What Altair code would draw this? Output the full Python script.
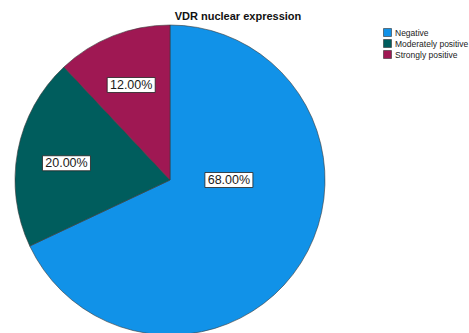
import altair as alt
import pandas as pd

title_text = "VDR nuclear expression"
categories = ["Negative", "Moderately positive", "Strongly positive"]
percent = [68, 20, 12]
colors = ["#1192e8", "#005d5d", "#9f1853"]

df = pd.DataFrame({"category": categories, "percent": percent, "idx": list(range(len(categories)))})

CX, CY, R = 170, 180, 155
FONT = "Liberation Sans"

base = alt.Chart(df).transform_joinaggregate(
    total="sum(percent)"
).transform_window(
    cum="sum(percent)", sort=[alt.SortField("idx")], frame=[None, 0]
).transform_calculate(
    mid="(datum.cum - datum.percent/2)/datum.total",
    label="format(datum.percent/datum.total, '.2%')",
).transform_calculate(
    ang=f"datum.percent/datum.total > 0.5 ? PI/2 : 2*PI*datum.mid",
    lr=f"datum.percent/datum.total > 0.5 ? {0.38*R} : {0.68*R}",
).transform_calculate(
    lx=f"{CX} + datum.lr*sin(datum.ang)",
    ly=f"{CY} - datum.lr*cos(datum.ang) + (datum.percent/datum.total > 0.5 ? 0 : 3)",
).transform_calculate(
    bx1="datum.lx - 24", bx2="datum.lx + 24",
    by1="datum.ly - 7.5", by2="datum.ly + 7.5",
)

arcs = base.mark_arc(outerRadius=R, stroke="#3a3a3a", strokeWidth=0.6).encode(
    theta=alt.Theta("percent:Q", stack=True),
    order=alt.Order("idx:Q"),
    color=alt.Color(
        "category:N",
        scale=alt.Scale(domain=categories, range=colors),
        sort=categories,
        legend=alt.Legend(
            orient="none", legendX=383, legendY=28, title=None,
            symbolType="square", symbolSize=64, symbolStrokeColor="#333",
            symbolStrokeWidth=0.6, labelFont=FONT, labelFontSize=8.5,
            labelColor="#222", rowPadding=0, labelOffset=3, padding=0,
        ),
    ),
    x=alt.value(CX),
    y=alt.value(CY),
)

boxes = base.mark_rect(fill="white", stroke="#222", strokeWidth=0.8).encode(
    x=alt.X("bx1:Q", scale=None, axis=None),
    x2="bx2:Q",
    y=alt.Y("by1:Q", scale=None, axis=None),
    y2="by2:Q",
)

texts = base.mark_text(font=FONT, fontSize=12.5, color="#1a1a1a", align="center", baseline="middle").encode(
    x=alt.X("lx:Q", scale=None, axis=None),
    y=alt.Y("ly:Q", scale=None, axis=None),
    text="label:N",
)

title = alt.Chart(pd.DataFrame({"t": [title_text]})).mark_text(
    font=FONT, fontSize=11, fontWeight="bold", color="#111", align="center", baseline="middle"
).encode(x=alt.value(238), y=alt.value(17), text="t:N")

chart = alt.layer(arcs, boxes, texts, title).properties(
    width=469, height=333, autosize="none", padding=0
).configure_view(stroke=None)

chart.save("out.html", embed_options={"renderer": "svg", "actions": False})
